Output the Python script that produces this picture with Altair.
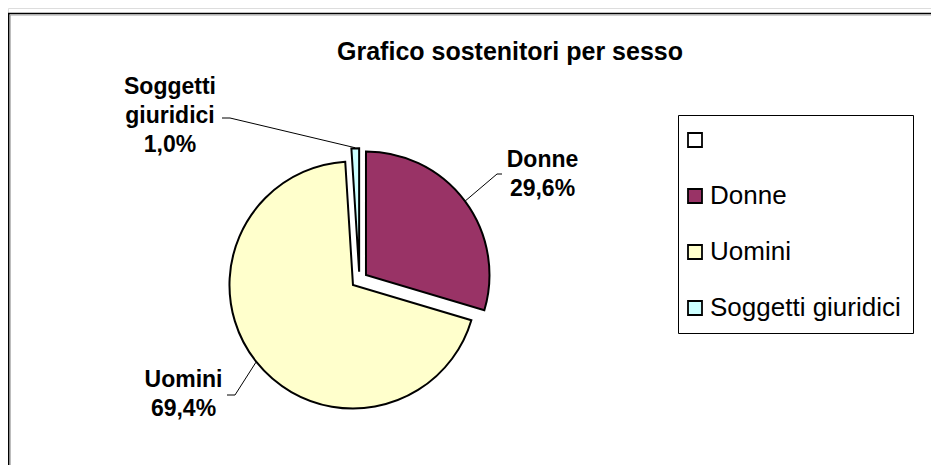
import altair as alt
import pandas as pd

# ---- data ----
categories = ["Donne", "Uomini", "Soggetti giuridici"]
values = [29.6, 69.4, 1.0]
legend_entries = [" ", "Donne", "Uomini", "Soggetti giuridici"]
legend_colors = ["#FFFFFF", "#993366", "#FFFFCC", "#CCFFFF"]
title_text = "Grafico sostenitori per sesso"

# ---- layout (chart pixel coordinates) ----
W, H = 923, 457
CX, CY = 351.4, 271.9      # pie centre
R = 123.5                  # pie radius
EXPLODE = 8.2              # explosion distance of every slice
FONT = "Liberation Sans"

# first-line position of each label block, leader stub (x_near_label, x_towards_pie, y)
label_layout = {
    "Donne": dict(lx=534.5, ly=151.5, sx0=494.0, sx1=489.0, sy=166.0),
    "Uomini": dict(lx=175.5, ly=371.5, sx0=219.0, sx1=227.0, sy=387.0),
    "Soggetti giuridici": dict(lx=162.0, ly=79.0, sx0=214.0, sx1=222.0, sy=110.0),
}

df = pd.DataFrame({"category": categories, "value": values, "order": list(range(len(categories)))})
for k in ["lx", "ly", "sx0", "sx1", "sy"]:
    df[k] = [label_layout[c][k] for c in categories]

base = (
    alt.Chart(df)
    .transform_joinaggregate(total="sum(value)")
    .transform_window(cum="sum(value)", sort=[alt.SortField("order")], frame=[None, 0])
    .transform_calculate(
        t1="2*PI*datum.cum/datum.total",
        t0="2*PI*(datum.cum-datum.value)/datum.total",
    )
    .transform_calculate(mid="(datum.t0+datum.t1)/2")
    .transform_calculate(
        cx=f"{CX}+{EXPLODE}*sin(datum.mid)",
        cy=f"{CY}-{EXPLODE}*cos(datum.mid)",
    )
    .transform_calculate(
        ax=f"datum.cx+{R + 0.5}*sin(datum.mid)",
        ay=f"datum.cy-{R + 0.5}*cos(datum.mid)",
        label="replace(datum.category,' ','\\n')+'\\n'+replace(format(datum.value/datum.total,'.1%'),'.',',')",
    )
)

arcs = base.mark_arc(outerRadius=R, stroke="black", strokeWidth=2).encode(
    x=alt.X("cx:Q", scale=None),
    y=alt.Y("cy:Q", scale=None),
    theta=alt.Theta("t0:Q", scale=None, stack=None),
    theta2=alt.Theta2("t1:Q"),
    color=alt.Color(
        "category:N",
        scale=alt.Scale(domain=legend_entries, range=legend_colors),
        legend=alt.Legend(
            title=None,
            orient="none",
            legendX=670,
            legendY=107,
            symbolType="square",
            symbolSize=196,
            symbolStrokeColor="black",
            symbolStrokeWidth=1.8,
            symbolOpacity=1,
            symbolOffset=-8,
            labelFontSize=26,
            labelFont=FONT,
            labelColor="black",
            labelOffset=2,
            labelLimit=0,
            rowPadding=30,
            padding=12,
            strokeColor="black",
        ),
    ),
)

leader_diag = base.mark_rule(color="black", strokeWidth=1).encode(
    x=alt.X("ax:Q", scale=None),
    y=alt.Y("ay:Q", scale=None),
    x2="sx1:Q",
    y2="sy:Q",
)
leader_stub = base.mark_rule(color="black", strokeWidth=1).encode(
    x=alt.X("sx0:Q", scale=None),
    x2="sx1:Q",
    y=alt.Y("sy:Q", scale=None),
)

labels = base.mark_text(
    font=FONT, fontSize=23, fontWeight="bold", color="black",
    lineBreak="\n", lineHeight=29, align="center", baseline="middle",
).encode(
    x=alt.X("lx:Q", scale=None),
    y=alt.Y("ly:Q", scale=None),
    text="label:N",
)

title = (
    alt.Chart(pd.DataFrame({"t": [title_text]}))
    .mark_text(font=FONT, fontSize=25, fontWeight="bold", color="black", align="center", baseline="middle")
    .encode(x=alt.value(502), y=alt.value(44), text="t:N")
)

border = alt.Chart(pd.DataFrame({"a": [0]}))
border_top = border.mark_rule(color="black", strokeWidth=1.5).encode(
    x=alt.value(0), x2=alt.value(W), y=alt.value(5.5))
border_left = border.mark_rule(color="black", strokeWidth=1.5).encode(
    x=alt.value(0.75), y=alt.value(5), y2=alt.value(H))
shadow_top = border.mark_rule(color="#a0a0a0", strokeWidth=1).encode(
    x=alt.value(2), x2=alt.value(W), y=alt.value(7))
shadow_left = border.mark_rule(color="#a0a0a0", strokeWidth=1).encode(
    x=alt.value(2.2), y=alt.value(7), y2=alt.value(H))

chart = (
    alt.layer(border_top, border_left, shadow_top, shadow_left, title,
              leader_diag, leader_stub, arcs, labels)
    .properties(width=W, height=H, autosize=alt.AutoSizeParams(type="none"), padding=0)
    .configure_view(stroke=None)
    .configure(background="white")
)

chart.save("out.html", embed_options={"renderer": "svg", "actions": False})
